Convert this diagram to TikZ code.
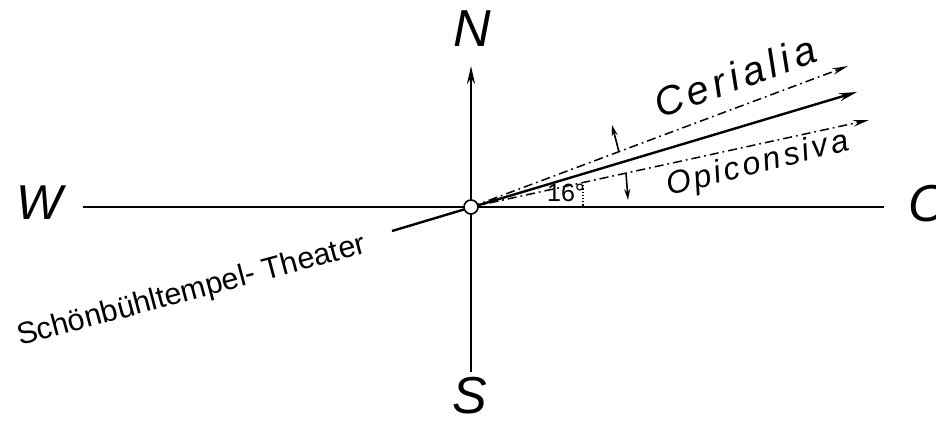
\documentclass[tikz,border=0pt]{standalone}
\usepackage{fontspec}
\setmainfont{Liberation Sans}
\usetikzlibrary{arrows.meta}
\begin{document}
\begin{tikzpicture}[x=1pt,y=-1pt,
  axis/.style={line width=2.4pt},
  thinaxis/.style={line width=1.5pt, dash pattern=on 9pt off 4pt on 1.8pt off 4pt},
  bigtip/.style={-{Stealth[length=18pt,width=8pt]}},
  midtip/.style={-{Stealth[length=16pt,width=6.5pt]}},
  smalltip/.style={-{Stealth[length=11pt,width=6pt]}, line width=1.6pt},
  compass/.style={font=\fontsize{52}{52}\selectfont\itshape, inner sep=0pt},
  lbl/.style={inner sep=0pt, anchor=base west}]
\useasboundingbox (0,0) rectangle (936,421);
% key points
\coordinate (o) at (471,207);
\coordinate (wend) at (83,207);
\coordinate (eend) at (884,207);
\coordinate (nend) at (471,66);
\coordinate (send) at (471,372);
\coordinate (back) at (392,231);
\coordinate (maintip) at (857,92);
\coordinate (certip) at (848,66);
\coordinate (opitip) at (869,120);
% axes
\draw[axis] (wend) -- (eend);
\draw[axis, bigtip] (send) -- (nend);
% main direction
\draw[axis, bigtip] (back) -- (maintip);
% small back-pointing tip near origin
\coordinate (bt1) at (512,195);
\coordinate (bt2) at (487,202.2);
\draw[line width=1.2pt, -{Stealth[length=12pt,width=5pt]}] (bt1) -- (bt2);
% dash-dot directions
\draw[thinaxis, midtip] (o) -- (certip);
\draw[thinaxis, midtip] (o) -- (opitip);
% small perpendicular arrows
\coordinate (ua1) at (619,152);
\coordinate (ua2) at (612,125);
\coordinate (la1) at (626,173);
\coordinate (la2) at (628,200);
\draw[smalltip] (ua1) -- (ua2);
\draw[smalltip] (la1) -- (la2);
% dotted angle construction
\coordinate (dt1) at (583,182);
\coordinate (dt2) at (583,207);
\draw[line width=1.2pt, dotted] (dt1) -- (dt2);
% origin ring
\node[circle, draw, fill=white, line width=1.6pt, minimum size=14pt, inner sep=0pt] (c) at (o) {};
% labels
\node[compass] (N) at (472,29) {N};
\node[compass] (S) at (470,396) {S};
\node[compass, font=\fontsize{49}{49}\selectfont\itshape] (W) at (40,203) {W};
\node[compass] (O) at (929,204) {O};
\node[lbl, rotate=20, font=\fontsize{40}{40}\selectfont\itshape\addfontfeature{LetterSpace=12}] (cer) at (660,119) {Cerialia};
\node[lbl, rotate=14.3, font=\fontsize{32}{32}\selectfont\itshape\addfontfeature{LetterSpace=10}] (opi) at (669,196) {Opiconsiva};
\node[lbl, rotate=15, font=\fontsize{30.5}{30.5}\selectfont] (sch) at (20,346) {Schönbühltempel- Theater};
\node[inner sep=0pt, font=\fontsize{25}{25}\selectfont] (ang) at (566,193) {16°};
\end{tikzpicture}
\end{document}
